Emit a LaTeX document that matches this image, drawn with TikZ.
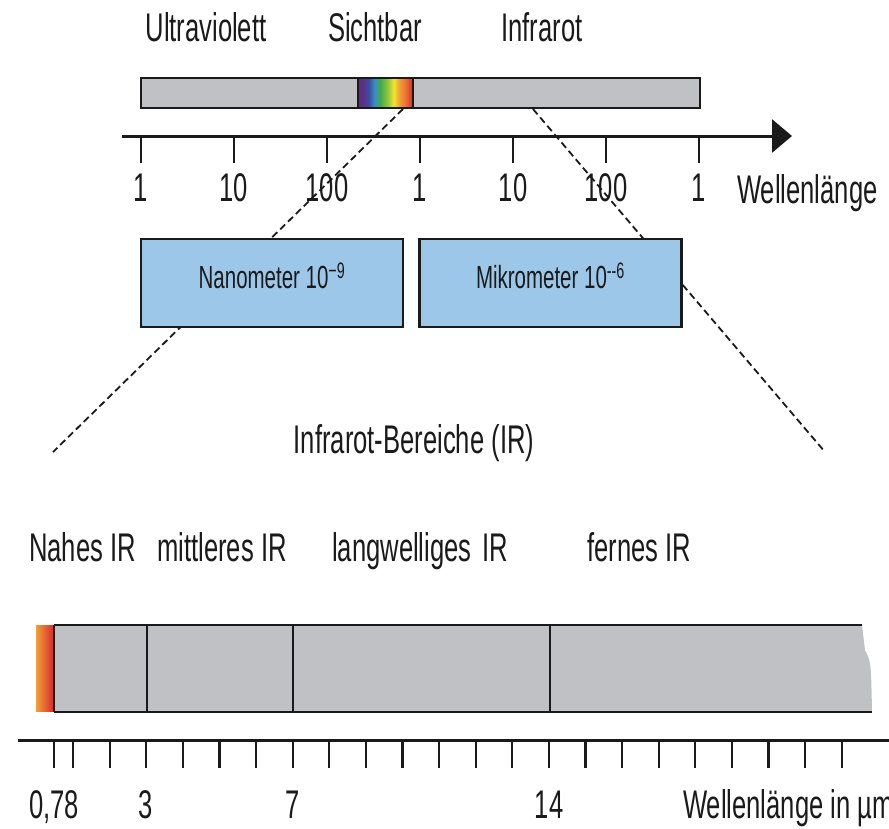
\documentclass[tikz,border=0pt]{standalone}
\usepackage{fontspec}
\setmainfont[FakeStretch=0.64]{Liberation Sans}
\usetikzlibrary{arrows.meta}
\definecolor{bargray}{RGB}{192,193,197}
\definecolor{boxblue}{RGB}{157,199,232}
\definecolor{ink}{RGB}{26,26,26}
\definecolor{specviolet}{RGB}{94,45,134}
\definecolor{specblue}{RGB}{59,79,160}
\definecolor{speccyan}{RGB}{60,140,200}
\definecolor{specgreen}{RGB}{61,170,74}
\definecolor{speclime}{RGB}{154,200,60}
\definecolor{specyellow}{RGB}{242,229,42}
\definecolor{specorange}{RGB}{240,160,60}
\definecolor{specred1}{RGB}{236,106,48}
\definecolor{specred}{RGB}{217,38,43}
\pgfdeclarehorizontalshading{spectrum}{100bp}{color(0bp)=(specviolet); color(25bp)=(specviolet); color(29bp)=(specviolet); color(35bp)=(specblue); color(40bp)=(speccyan); color(45bp)=(specgreen); color(52.5bp)=(speclime); color(57.5bp)=(specyellow); color(62.5bp)=(specorange); color(69bp)=(specred1); color(75bp)=(specred); color(100bp)=(specred)}
\begin{document}
\begin{tikzpicture}[x=1pt,y=-1pt,
  lbl/.style={font=\fontsize{40}{44}\selectfont, text=ink, inner sep=0pt, anchor=base},
  lblw/.style={lbl, anchor=base west},
  boxtext/.style={font=\fontsize{32}{36}\selectfont, text=ink, inner sep=0pt, anchor=base},
  bluebox/.style={draw=ink, line width=2.5pt, fill=boxblue, minimum width=262pt, minimum height=88pt, inner sep=0pt},
  barline/.style={draw=ink, line width=2.5pt},
  dashline/.style={draw=ink, line width=1.8pt, dash pattern=on 7pt off 4pt},
  tickline/.style={draw=ink, line width=2.5pt},
  thintick/.style={draw=ink, line width=2pt},
]
\useasboundingbox (0,0) rectangle (889,828);

% dashed zoom lines (behind the boxes)
\coordinate (vis) at (403,109);
\coordinate (irstart) at (533,109);
\coordinate (lend) at (53,452);
\coordinate (rend) at (825,452);
\draw[dashline] (vis) -- (lend);
\draw[dashline] (irstart) -- (rend);

% top labels
\node[lbl] (uv) at (206,41) {Ultraviolett};
\node[lbl] (sicht) at (375,41) {Sichtbar};
\node[lbl] (infra) at (542,41) {Infrarot};

% top bar
\fill[bargray] (141,78) rectangle (700,108);
\shade[shading=spectrum] (358,78) rectangle (413,108);
\draw[barline] (141,78) rectangle (700,108);
\draw[barline] (358,78) -- (358,108);
\draw[barline] (413,78) -- (413,108);

% top axis
\coordinate (axs) at (122,136);
\coordinate (axe) at (792,136);
\draw[draw=ink, line width=3pt, -{Triangle[length=20pt,width=33pt]}] (axs) -- (axe);
\foreach \x/\t in {141/1,234/10,327/100,420/1,513/10,606/100,699/1}{
  \draw[tickline] (\x,136) -- (\x,163);
  \node[lbl] at (\x,201) {\t};
}
\node[lblw] (wl) at (737,203) {Wellenlänge};

% blue boxes
\node[bluebox] (nano) at (272,283) {};
\node[bluebox] (mikro) at (550.5,283) {};
\node[boxtext] at (272,288) {Nanometer 10\textsuperscript{−9}};
\node[boxtext] at (550.5,288) {Mikrometer 10\textsuperscript{-{}-6}};

% title of IR range
\node[lbl] (irb) at (414,453) {Infrarot-Bereiche (IR)};

% bottom labels
\node[lblw] at (29,561) {Nahes IR};
\node[lblw] at (157,561) {mittleres IR};
\node[lblw] at (332,561) {langwelliges};
\node[lblw] at (482,561) {IR};
\node[lblw] at (587,561) {fernes IR};

% bottom bar
\fill[bargray] (54,625) -- (862,625) -- (865,650) .. controls (871,662) .. (872,712) -- (54,712) -- cycle;
\shade[left color=specorange, right color=specred] (36,625) rectangle (54,711);
\draw[barline] (54,625) -- (862,625);
\draw[barline] (54,712) -- (872,712);
\draw[barline] (54,625) -- (54,712);
\foreach \x in {147,293,550} \draw[barline] (\x,625) -- (\x,712);

% bottom axis
\draw[draw=ink, line width=3pt] (18,740) -- (889,740);
\draw[tickline] (54,740) -- (54,768);
\foreach \n in {1,...,22}{
  \pgfmathsetmacro{\xx}{73+(\n-1)*36.6}
  \pgfmathtruncatemacro{\m}{mod(\n,5)}
  \ifnum\m=0
    \draw[tickline] (\xx,740) -- (\xx,768);
  \else
    \draw[thintick] (\xx,740) -- (\xx,768);
  \fi
}
\node[lbl] at (54,818) {0,78};
\node[lbl] at (146,818) {3};
\node[lbl] at (293,818) {7};
\node[lbl] at (549,818) {14};
\node[lblw] at (683,818) {Wellenlänge in µm};
\end{tikzpicture}
\end{document}
